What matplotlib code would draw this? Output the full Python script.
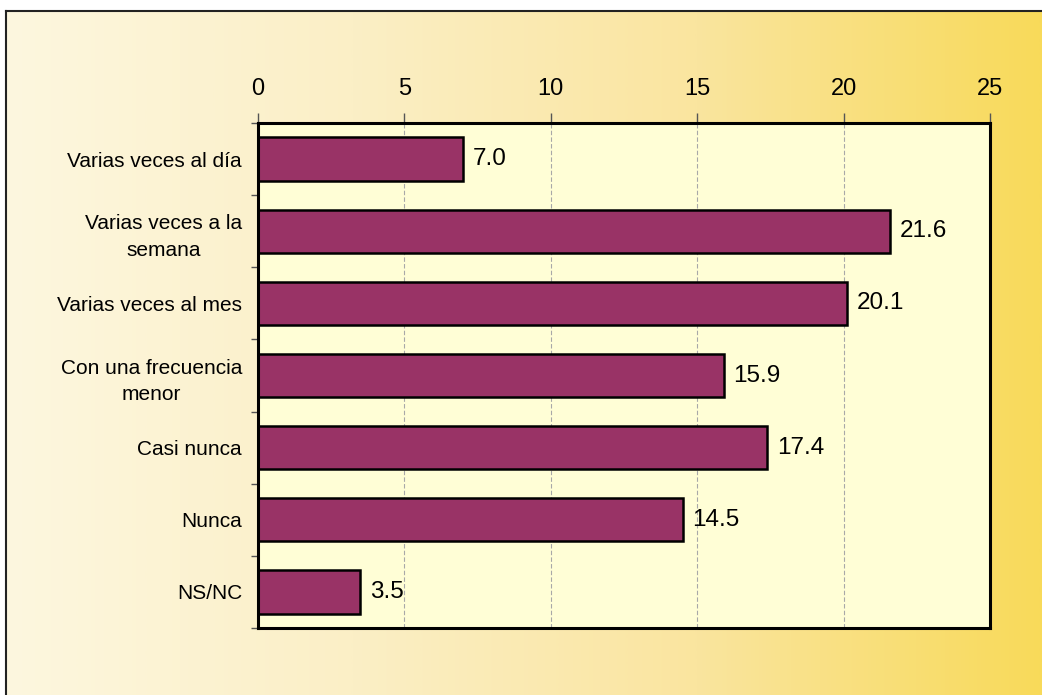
import numpy as np
import matplotlib
matplotlib.use("Agg")
import matplotlib.pyplot as plt
from matplotlib.colors import LinearSegmentedColormap
from matplotlib.ticker import FixedLocator

categories = ["Varias veces al día", "Varias veces a la\nsemana", "Varias veces al mes",
              "Con una frecuencia\nmenor", "Casi nunca", "Nunca", "NS/NC"]
values = [7.0, 21.6, 20.1, 15.9, 17.4, 14.5, 3.5]
xticks = [0, 5, 10, 15, 20, 25]

plt.rcParams['font.family'] = ['Liberation Sans', 'DejaVu Sans']

W, H = 1042, 695
fig = plt.figure(figsize=(W / 100, H / 100), dpi=100)
fig.patch.set_facecolor('white')

# background gradient inside frame
bg = fig.add_axes([6 / W, 0, 1 - 6 / W, 1 - 11 / H], zorder=0)
cmap = LinearSegmentedColormap.from_list('bg', ['#FDF7DF', '#FBEFC6', '#FAE59F', '#F8DA5A'])
grad = np.linspace(0, 1, 512).reshape(1, -1)
bg.imshow(grad, aspect='auto', cmap=cmap, extent=[0, 1, 0, 1])
bg.set_xlim(0, 1)
bg.set_ylim(0, 1)
bg.set_xticks([])
bg.set_yticks([])
for s in ['right', 'bottom']:
    bg.spines[s].set_visible(False)
for s in ['left', 'top']:
    bg.spines[s].set_linewidth(1.5)
    bg.spines[s].set_color('#222222')

ax = fig.add_axes([258 / W, 1 - 628 / H, (990 - 258) / W, (628 - 123) / H], zorder=2)
ax.set_facecolor('#FFFED6')
y = np.arange(len(categories))
ax.barh(y, values, height=0.6, color='#993366', edgecolor='black', linewidth=1.8, zorder=3)
ax.set_xlim(0, 25)
ax.set_ylim(len(categories) - 0.5, -0.5)

ax.xaxis.tick_top()
ax.set_xticks(xticks)
ax.set_xticklabels([str(t) for t in xticks], fontsize=17)
ax.tick_params(axis='x', direction='out', length=7, width=1, color='#555555', pad=9.5)
ax.grid(axis='x', color='#A8A8A8', linestyle=(0, (4, 2)), linewidth=0.8, zorder=1)

ax.set_yticks(y)
ax.set_yticklabels(categories, fontsize=15, multialignment='center', linespacing=1.5)
ax.yaxis.set_minor_locator(FixedLocator(np.arange(-0.5, len(categories), 1.0)))
ax.tick_params(axis='y', which='major', length=0, pad=11.5)
ax.tick_params(axis='y', which='minor', direction='out', length=5, width=1, color='#555555')

for s in ax.spines.values():
    s.set_linewidth(2.2)
    s.set_color('black')
    s.set_zorder(5)

for yi, v in zip(y, values):
    ax.annotate(f"{v:.1f}", (v, yi), xytext=(7, 0), textcoords='offset points',
                va='center', ha='left', fontsize=17.5)

fig.savefig('out.png', dpi=100, facecolor=fig.get_facecolor())
